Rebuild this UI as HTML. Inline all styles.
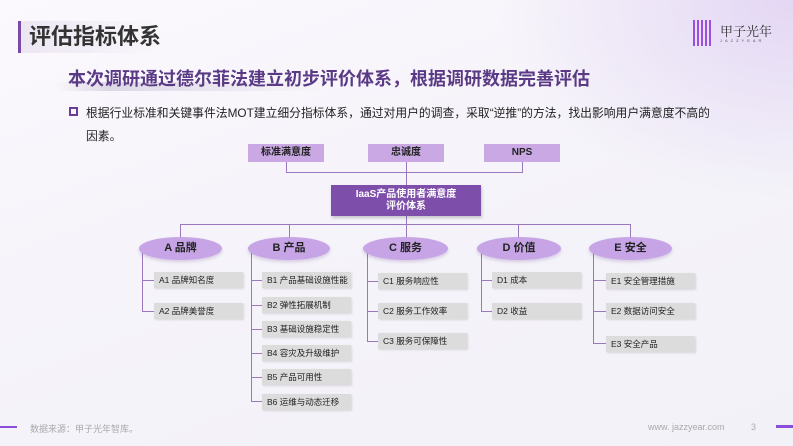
<!DOCTYPE html>
<html><head><meta charset="utf-8"><style>
*{margin:0;padding:0;box-sizing:border-box}
body{width:793px;height:446px;overflow:hidden;position:relative;font-family:"Liberation Sans","Noto Sans CJK SC",sans-serif;background:linear-gradient(160deg,#fbf9fd 0%,#f6f4fa 40%,#f1f1f7 100%);}
.a{position:absolute}
.tb{background:#c9a8e4;color:#222;font-size:10px;font-weight:bold;text-align:center;line-height:18px;height:18px;width:76px;top:144px}
.el{background:#c7a4e6;border-radius:50%;height:23px;top:237px;font-size:11px;font-weight:bold;text-align:center;line-height:23px;color:#222;box-shadow:0 2px 3px rgba(120,80,160,.25)}
.gb{background:#dcdcdc;height:16px;width:89px;font-size:8.5px;line-height:16px;padding-left:5px;color:#222;box-shadow:1px 1px 2px rgba(0,0,0,.12)}
.ln{background:#9a78bd}
</style></head><body>
<div class="a" style="right:0;top:0;width:300px;height:200px;background:radial-gradient(ellipse at top right,rgba(215,195,240,.6),rgba(255,255,255,0) 70%)"></div>
<div class="a" style="left:18px;top:21px;width:3px;height:32px;background:#7a4aa8"></div>
<div class="a" style="left:21px;top:21px;width:140px;height:32px;background:linear-gradient(90deg,#ece6f2,rgba(240,236,246,0))"></div>
<div class="a" style="left:29px;top:23px;font-size:22px;font-weight:bold;color:#333;line-height:28px">评估指标体系</div>
<div class="a" style="left:693px;top:20px;width:20px;height:26px;background:repeating-linear-gradient(90deg,#9b4fe0 0 2px,transparent 2px 4px)"></div>
<div class="a" style="left:720px;top:21px;font-size:13px;color:#333;font-family:'Noto Serif CJK SC',serif">甲子光年</div>
<div class="a" style="left:720px;top:38px;font-size:4px;letter-spacing:3px;color:#555">JAZZYEAR</div>
<div class="a" style="left:55px;top:82px;width:270px;height:9px;background:linear-gradient(90deg,rgba(210,205,220,0),#ddd8e6 20%,rgba(230,226,238,0))"></div>
<div class="a" style="left:68px;top:67px;font-size:18px;font-weight:bold;color:#5a3a85;line-height:24px">本次调研通过德尔菲法建立初步评价体系，根据调研数据完善评估</div>
<div class="a" style="left:69px;top:107px;width:9px;height:9px;border:2px solid #6a3e98"></div>
<div class="a" style="left:86px;top:102px;font-size:11.8px;color:#222;line-height:23px;width:635px">根据行业标准和关键事件法MOT建立细分指标体系，通过对用户的调查，采取“逆推”的方法，找出影响用户满意度不高的因素。</div>

<div class="a tb" style="left:248px">标准满意度</div>
<div class="a tb" style="left:368px">忠诚度</div>
<div class="a tb" style="left:484px">NPS</div>
<div class="a ln" style="left:286px;top:162px;width:1px;height:11px"></div>
<div class="a ln" style="left:522px;top:162px;width:1px;height:11px"></div>
<div class="a ln" style="left:286px;top:172px;width:237px;height:1px"></div>
<div class="a ln" style="left:406px;top:162px;width:1px;height:75px"></div>
<div class="a" style="left:331px;top:185px;width:150px;height:31px;background:#7e4faa;color:#fff;font-size:10px;font-weight:bold;text-align:center;line-height:12px;padding-top:4px;box-shadow:1px 2px 3px rgba(0,0,0,.2)">IaaS产品使用者满意度<br>评价体系</div>
<div class="a ln" style="left:180px;top:224px;width:451px;height:1px"></div>
<div class="a ln" style="left:180px;top:224px;width:1px;height:14px"></div>
<div class="a ln" style="left:289px;top:224px;width:1px;height:14px"></div>
<div class="a ln" style="left:518px;top:224px;width:1px;height:14px"></div>
<div class="a ln" style="left:630px;top:224px;width:1px;height:14px"></div>

<div class="a ln" style="left:142px;top:250px;width:1px;height:62px"></div>
<div class="a ln" style="left:251px;top:250px;width:1px;height:152px"></div>
<div class="a ln" style="left:367px;top:250px;width:1px;height:92px"></div>
<div class="a ln" style="left:481px;top:250px;width:1px;height:62px"></div>
<div class="a ln" style="left:593px;top:250px;width:1px;height:94px"></div>

<div class="a el" style="left:139px;width:83px">A 品牌</div>
<div class="a el" style="left:248px;width:82px">B 产品</div>
<div class="a el" style="left:363px;width:85px">C 服务</div>
<div class="a el" style="left:477px;width:84px">D 价值</div>
<div class="a el" style="left:589px;width:83px">E 安全</div>

<div class="a ln" style="left:142px;top:280px;width:12px;height:1px"></div>
<div class="a ln" style="left:142px;top:311px;width:12px;height:1px"></div>
<div class="a gb" style="left:154px;top:272px">A1 品牌知名度</div>
<div class="a gb" style="left:154px;top:303px">A2 品牌美誉度</div>

<div class="a ln" style="left:251px;top:280px;width:11px;height:1px"></div>
<div class="a ln" style="left:251px;top:305px;width:11px;height:1px"></div>
<div class="a ln" style="left:251px;top:329px;width:11px;height:1px"></div>
<div class="a ln" style="left:251px;top:353px;width:11px;height:1px"></div>
<div class="a ln" style="left:251px;top:377px;width:11px;height:1px"></div>
<div class="a ln" style="left:251px;top:401px;width:11px;height:1px"></div>
<div class="a gb" style="left:262px;top:272px">B1 产品基础设施性能</div>
<div class="a gb" style="left:262px;top:297px">B2 弹性拓展机制</div>
<div class="a gb" style="left:262px;top:321px">B3 基础设施稳定性</div>
<div class="a gb" style="left:262px;top:345px">B4 容灾及升级维护</div>
<div class="a gb" style="left:262px;top:369px">B5 产品可用性</div>
<div class="a gb" style="left:262px;top:394px">B6 运维与动态迁移</div>

<div class="a ln" style="left:367px;top:281px;width:11px;height:1px"></div>
<div class="a ln" style="left:367px;top:311px;width:11px;height:1px"></div>
<div class="a ln" style="left:367px;top:341px;width:11px;height:1px"></div>
<div class="a gb" style="left:378px;top:273px">C1 服务响应性</div>
<div class="a gb" style="left:378px;top:303px">C2 服务工作效率</div>
<div class="a gb" style="left:378px;top:333px">C3 服务可保障性</div>

<div class="a ln" style="left:481px;top:280px;width:11px;height:1px"></div>
<div class="a ln" style="left:481px;top:311px;width:11px;height:1px"></div>
<div class="a gb" style="left:492px;top:272px">D1 成本</div>
<div class="a gb" style="left:492px;top:303px">D2 收益</div>

<div class="a ln" style="left:593px;top:280px;width:13px;height:1px"></div>
<div class="a ln" style="left:593px;top:311px;width:13px;height:1px"></div>
<div class="a ln" style="left:593px;top:343px;width:13px;height:1px"></div>
<div class="a gb" style="left:606px;top:273px">E1 安全管理措施</div>
<div class="a gb" style="left:606px;top:303px">E2 数据访问安全</div>
<div class="a gb" style="left:606px;top:336px">E3 安全产品</div>

<div class="a" style="left:0;top:426px;width:17px;height:2px;background:#8a4fd8"></div>
<div class="a" style="left:30px;top:422px;font-size:9px;color:#aaa">数据来源：甲子光年智库。</div>
<div class="a" style="left:648px;top:422px;font-size:9px;color:#aaa">www. jazzyear.com</div>
<div class="a" style="left:751px;top:422px;font-size:9px;color:#aaa">3</div>
<div class="a" style="left:776px;top:425px;width:17px;height:3px;background:#8a4fd8"></div>
</body></html>
